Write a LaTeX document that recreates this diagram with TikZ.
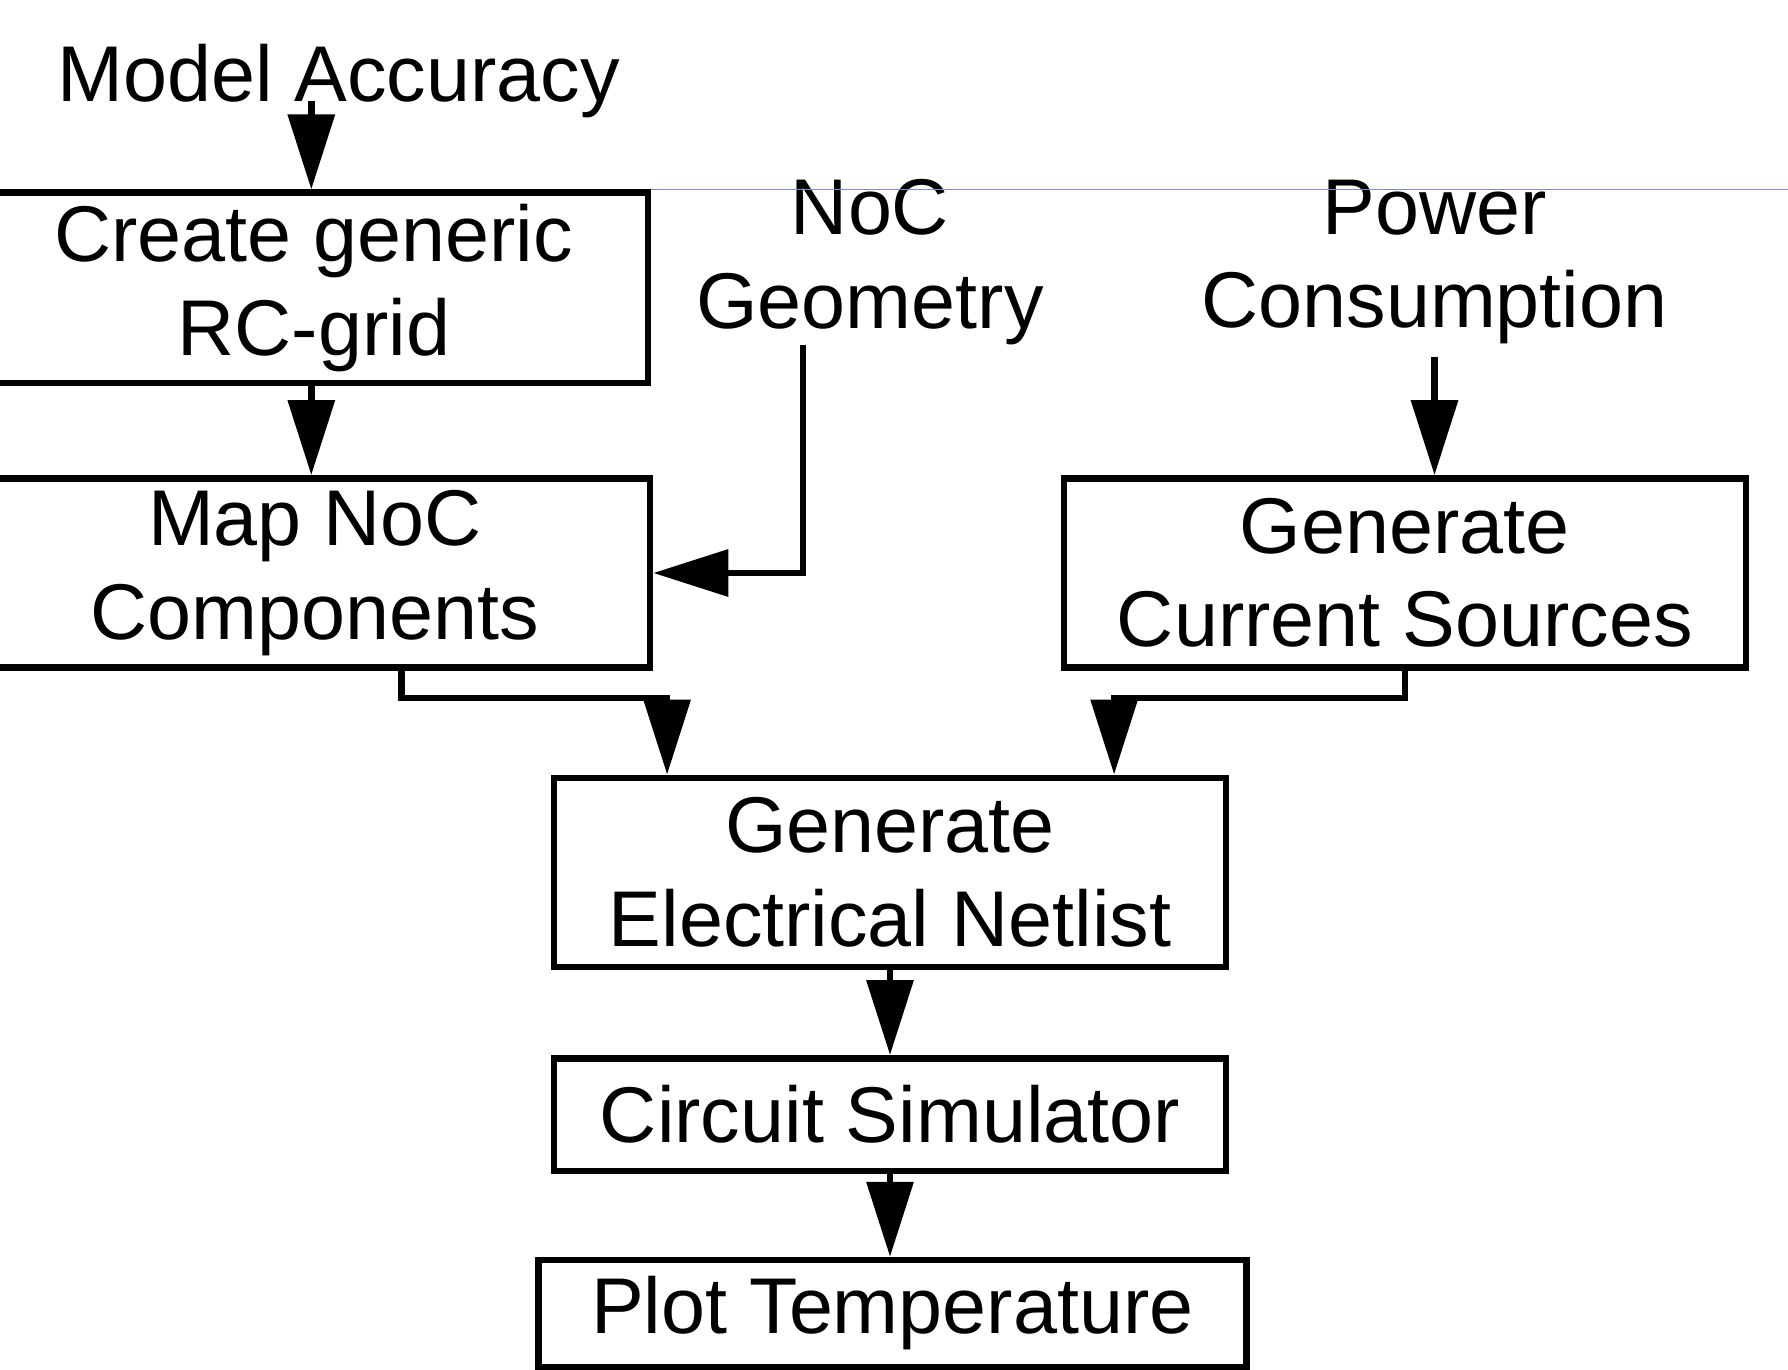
\documentclass[tikz,border=0pt]{standalone}
\usepackage{fontspec}
\setmainfont{Liberation Sans}
\usetikzlibrary{arrows.meta}
\definecolor{guideblue}{RGB}{120,146,200}
\tikzset{
    stage/.style = {draw, line width=1.85pt, inner sep=0pt, align=center,
        font=\fontsize{22.5}{26.6}\selectfont},
    source/.style = {draw=none, inner sep=0pt, align=center,
        font=\fontsize{22.5}{26.6}\selectfont},
    flow/.style = {-{Triangle[length=0.75cm,width=0.46cm]}, line width=1.85pt},
    guide/.style = {draw=guideblue, line width=0.5pt}
}

\begin{document}
\begin{tikzpicture}
    \useasboundingbox (0,0) rectangle (17.88,-13.69);

    \node[source, anchor=base] (ma) at (3.387,-1.015) {Model Accuracy};
    \node[source] (ng) at (8.70,-2.62) {NoC\\Geometry};
    \node[source] (pc) at (14.345,-2.62) {Power\\Consumption};

    \node[stage, minimum width=6.677cm, minimum height=1.904cm] (cg) at (3.139,-2.879) {Create generic\\RC-grid};
    \node[stage, minimum width=6.70cm, minimum height=1.893cm] (mp) at (3.15,-5.73) {Map NoC\\Components};
    \node[stage, minimum width=6.819cm, minimum height=1.893cm] (gcs) at (14.048,-5.73) {Generate\\Current Sources};
    \node[stage, minimum width=6.716cm, minimum height=1.893cm] (gen) at (8.90,-8.724) {Generate\\Electrical Netlist};
    \node[stage, minimum width=6.716cm, minimum height=1.129cm] (cs) at (8.90,-11.147) {Circuit Simulator};
    \node[stage, minimum width=7.081cm, minimum height=1.07cm] (pt) at (8.923,-13.135) {Plot Temperature};

    \coordinate (a1) at (3.113,0);
    \coordinate (nx) at (8.028,0);
    \coordinate (l1) at (4.014,-6.979);
    \coordinate (l2) at (6.671,-6.979);
    \coordinate (r1) at (14.048,-6.979);
    \coordinate (r2) at (11.141,-6.979);
    \coordinate (rim) at (17.88,0);

    \draw [guide] (cg.north east)--(rim |- cg.north east);

    \draw [flow] (a1 |- ma.base)--(a1 |- cg.north);
    \draw [flow] (a1 |- cg.south)--(a1 |- mp.north);
    \draw [flow] (nx |- ng.south) |- (mp.east);
    \draw [flow, shorten <=0.12cm] (pc.south)--(pc.south |- gcs.north);

    \draw [flow] (l1 |- mp.south)--(l1)--(l2)--(l2 |- gen.north);
    \draw [flow] (gcs.south)--(r1)--(r2)--(r2 |- gen.north);

    \draw [flow] (gen.south)--(gen.south |- cs.north);
    \draw [flow] (cs.south)--(cs.south |- pt.north);

\end{tikzpicture}
\end{document}
